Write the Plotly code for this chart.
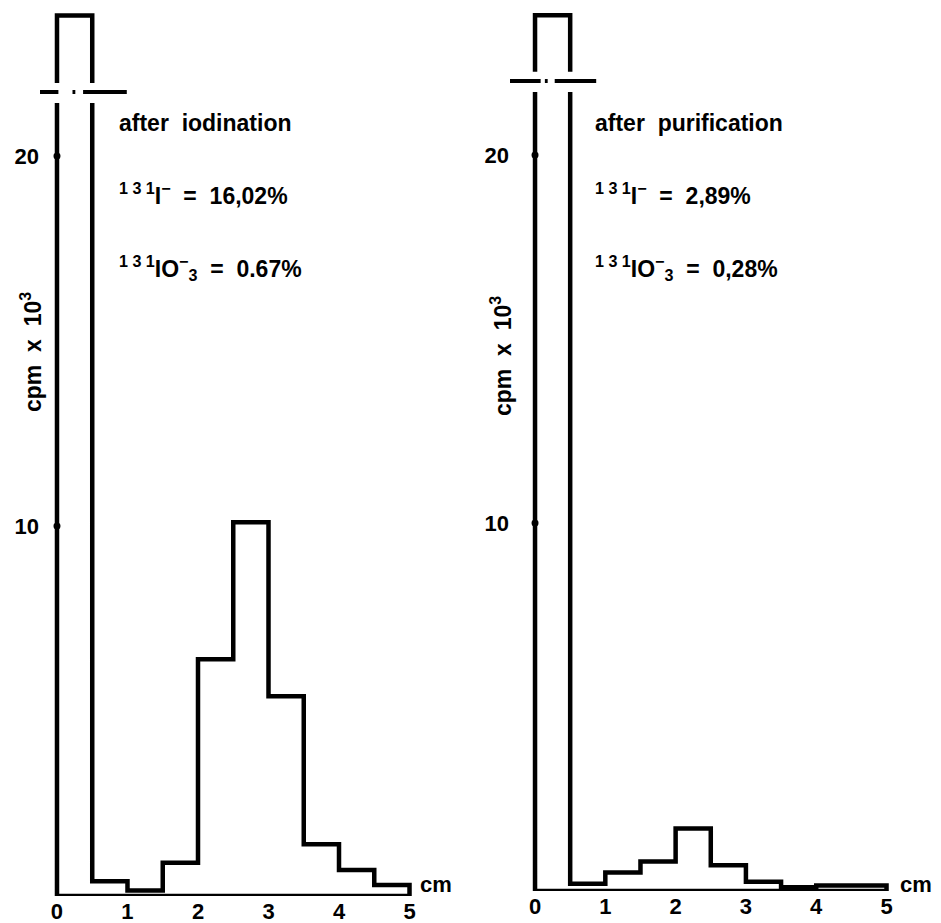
import plotly.graph_objects as go

# ---------------- data ----------------
bin_edges = [0.0, 0.5, 1.0, 1.5, 2.0, 2.5, 3.0, 3.5, 4.0, 4.5, 5.0]
# first bin is off-scale (broken axis); value = displayed height
iodination_cpm = [23.8, 0.4, 0.15, 0.9, 6.4, 10.1, 5.4, 1.4, 0.7, 0.3]
purification_cpm = [23.8, 0.2, 0.5, 0.8, 1.7, 0.7, 0.25, 0.1, 0.15, 0.15]
x_ticks = [0, 1, 2, 3, 4, 5]
y_ticks = [10, 20]
y_tick_text = ["10", "20"]
panel_labels = ["after  iodination", "after  purification"]
iodide_text = ["<sup>1 3 1</sup>I<sup>−</sup>  =  16,02%", "<sup>1 3 1</sup>I<sup>−</sup>  =  2,89%"]
iodate_text = ["<sup>1 3 1</sup>IO<sup>−</sup><sub>3</sub>  =  0.67%", "<sup>1 3 1</sup>IO<sup>−</sup><sub>3</sub>  =  0,28%"]
y_title = "cpm  x  10<sup>3</sup>"
x_unit = "cm"

# page body has an 8px default margin; build the figure in window coordinates
OFF = 8
W, H = 941 - OFF, 923 - OFF
FONT = "Liberation Sans"
LW = 4.5


def px(xp):
    return (xp - OFF) / W


def py(yp):
    return 1 - (yp - OFF) / H


def step_path(edges, vals):
    xs, ys = [edges[0]], [0]
    for i, v in enumerate(vals):
        xs += [edges[i], edges[i + 1]]
        ys += [v, v]
    xs.append(edges[-1])
    ys.append(0)
    return xs, ys


fig = go.Figure()

panels = [
    dict(vals=iodination_cpm, xa="x", ya="y"),
    dict(vals=purification_cpm, xa="x2", ya="y2"),
]
for p in panels:
    xs, ys = step_path(bin_edges, p["vals"])
    fig.add_trace(go.Scatter(x=xs, y=ys, mode="lines", xaxis=p["xa"], yaxis=p["ya"],
                             line=dict(color="black", width=LW), showlegend=False,
                             hoverinfo="skip"))
    fig.add_trace(go.Scatter(x=[bin_edges[0], bin_edges[-1]], y=[0, 0], mode="lines",
                             xaxis=p["xa"], yaxis=p["ya"],
                             line=dict(color="black", width=LW), showlegend=False,
                             hoverinfo="skip"))
    fig.add_trace(go.Scatter(x=[0] * len(y_ticks), y=y_ticks, mode="markers",
                             xaxis=p["xa"], yaxis=p["ya"],
                             marker=dict(color="black", size=7), showlegend=False,
                             hoverinfo="skip"))

axis_common = dict(showgrid=False, zeroline=False, showline=False, ticks="",
                   tickfont=dict(family=FONT, size=22, color="black", weight="bold"))

fig.update_layout(
    width=W, height=H,
    margin=dict(l=0, r=0, t=0, b=0),
    paper_bgcolor="white", plot_bgcolor="white",
    xaxis=dict(domain=[px(40), px(470)], range=[-0.241, 5.858], tickvals=x_ticks,
               anchor="y", automargin=False, **axis_common),
    yaxis=dict(domain=[py(896), 1], range=[0, (896 - OFF) / 37.0], tickvals=y_ticks,
               ticktext=y_tick_text, anchor="x", automargin=False, **axis_common),
    xaxis2=dict(domain=[px(510), 1], range=[-0.356, 5.775], tickvals=x_ticks,
                anchor="y2", automargin=False, **axis_common),
    yaxis2=dict(domain=[py(891), 1], range=[0, (891 - OFF) / 36.8], tickvals=y_ticks,
                ticktext=y_tick_text, anchor="x2", automargin=False, **axis_common),
)

# axis breaks on the off-scale first bin
breaks = [
    dict(xr="x", yr="y", gap=(21.43, 21.97), yb=21.73, d1=(-0.44, 0.02), dot=0.24, d2=(0.37, 0.99)),
    dict(xr="x2", yr="y2", gap=(21.71, 22.26), yb=22.01, d1=(-0.44, 0.08), dot=0.16, d2=(0.28, 0.87)),
]
shapes = []
for b in breaks:
    shapes.append(dict(type="rect", xref=b["xr"], yref=b["yr"], x0=-0.15, x1=0.65,
                       y0=b["gap"][0], y1=b["gap"][1], fillcolor="white", line=dict(width=0),
                       layer="above"))
    for seg in (b["d1"], b["d2"]):
        shapes.append(dict(type="line", xref=b["xr"], yref=b["yr"], x0=seg[0], x1=seg[1],
                           y0=b["yb"], y1=b["yb"], line=dict(color="black", width=4),
                           layer="above"))
    shapes.append(dict(type="line", xref=b["xr"], yref=b["yr"], x0=b["dot"] - 0.02,
                       x1=b["dot"] + 0.02, y0=b["yb"], y1=b["yb"],
                       line=dict(color="black", width=4), layer="above"))
fig.update_layout(shapes=shapes)

txt_font = dict(family=FONT, size=23, color="black", weight="bold")
ann = []
text_x = [117, 593]
for i in range(2):
    ann.append(dict(text=panel_labels[i], x=px(text_x[i]), y=py(123), xref="paper", yref="paper",
                    xanchor="left", yanchor="middle", showarrow=False, font=txt_font))
    ann.append(dict(text=iodide_text[i], x=px(text_x[i]), y=py(194), xref="paper", yref="paper",
                    xanchor="left", yanchor="middle", showarrow=False, font=txt_font))
    ann.append(dict(text=iodate_text[i], x=px(text_x[i]), y=py(268), xref="paper", yref="paper",
                    xanchor="left", yanchor="middle", showarrow=False, font=txt_font))
yfont = dict(family=FONT, size=23, color="black", weight="bold")
ann.append(dict(text=y_title, x=px(31), y=py(352), xref="paper", yref="paper", textangle=-90,
                xanchor="center", yanchor="middle", showarrow=False, font=yfont))
ann.append(dict(text=y_title, x=px(501), y=py(356), xref="paper", yref="paper", textangle=-90,
                xanchor="center", yanchor="middle", showarrow=False, font=yfont))
cm_font = dict(family=FONT, size=22, color="black", weight="bold")
ann.append(dict(text=x_unit, x=px(418), y=py(884), xref="paper", yref="paper",
                xanchor="left", yanchor="middle", showarrow=False, font=cm_font))
ann.append(dict(text=x_unit, x=px(898), y=py(884), xref="paper", yref="paper",
                xanchor="left", yanchor="middle", showarrow=False, font=cm_font))
fig.update_layout(annotations=ann)

fig.write_html("out.html")
